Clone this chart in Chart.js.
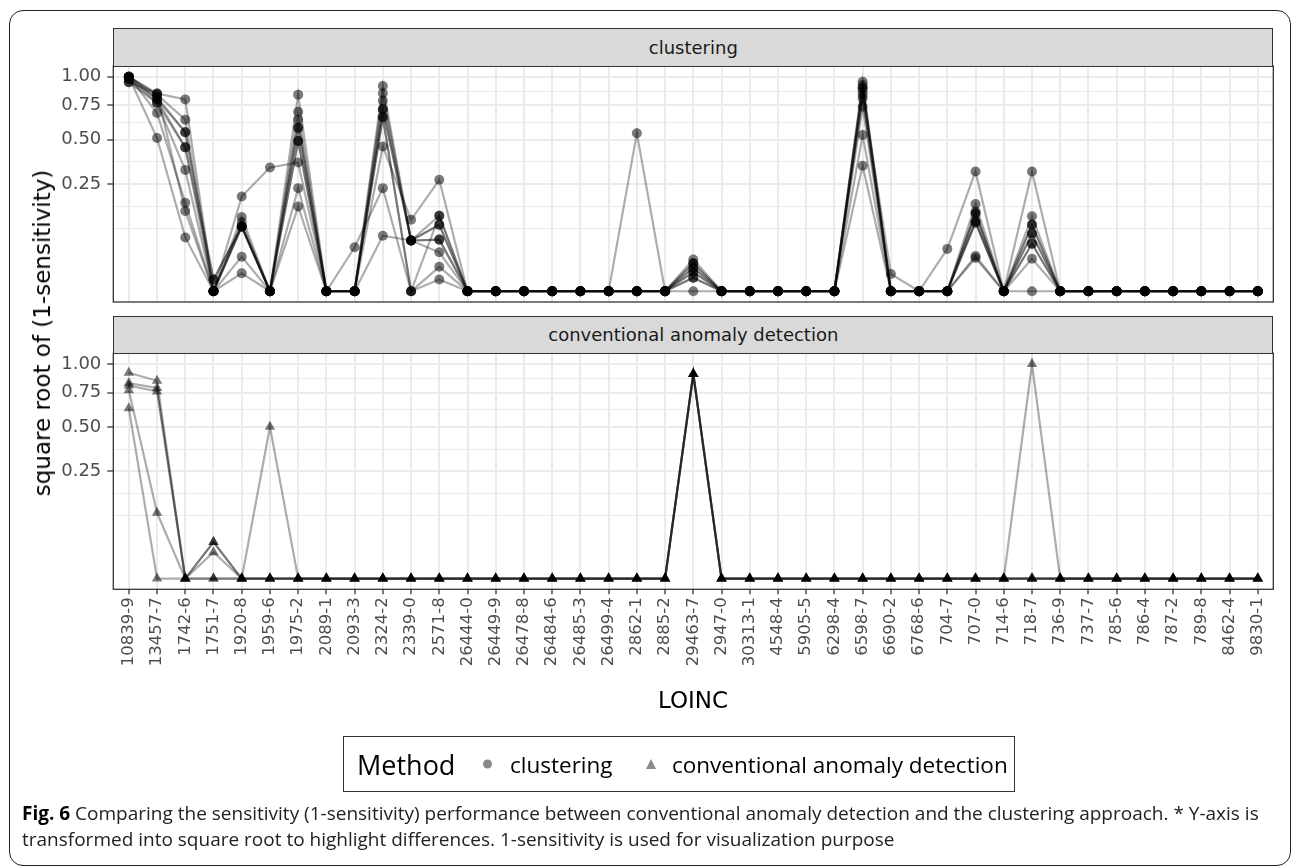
<!DOCTYPE html>
<html>
<head>
<meta charset="utf-8">
<script src="https://cdn.jsdelivr.net/npm/chart.js@4.4.1/dist/chart.umd.min.js"></script>
<style>
  html, body { margin: 0; padding: 0; background: #fff; }
  #fig { position: relative; width: 1292px; height: 868px; overflow: hidden; font-family: "DejaVu Sans", sans-serif; }
  canvas { position: absolute; left: 0; top: 0; }
  .frame { position: absolute; left: 9px; top: 10px; width: 1282px; height: 856px; border: 1.6px solid #222; border-radius: 14px; box-sizing: border-box; }
  .strip { position: absolute; left: 113.3px; width: 1160px; background: #d9d9d9; border: 1.3px solid #333; box-sizing: border-box;
           display: flex; align-items: center; justify-content: center; color: #1a1a1a; font-size: 18px; }
  .ytitle { position: absolute; left: 42px; top: 333px; transform: translate(-50%, -50%) rotate(-90deg); white-space: nowrap; font-size: 23px; color: #000; }
  .xtitle { position: absolute; left: 693px; top: 700px; transform: translate(-50%, -50%); white-space: nowrap; font-size: 23px; color: #000; }
  .legend { position: absolute; left: 343px; top: 736px; width: 672px; height: 56px; border: 1.3px solid #333; box-sizing: border-box;
            font-family: "Open Sans", sans-serif; color: #000; }
  .legend span { position: absolute; white-space: nowrap; top: 50%; transform: translateY(-50%); }
  .legend .ttl { font-size: 27px; left: 13px; }
  .legend .lab { font-size: 22.5px; }
  .dot { width: 9px; height: 9px; border-radius: 50%; background: #8a8a8a; }
  .tri { width: 0; height: 0; border-left: 5.5px solid transparent; border-right: 5.5px solid transparent; border-bottom: 10px solid #8a8a8a; }
  .caption { position: absolute; left: 22px; top: 800px; font-family: "Open Sans", sans-serif; font-size: 19px; line-height: 26px; color: #222; white-space: nowrap; }
  .caption b { color: #000; }
</style>
</head>
<body>
<div id="fig">
  <div class="frame"></div>
  <canvas id="panelClustering" width="1292" height="868"></canvas>
  <canvas id="panelConventional" width="1292" height="868"></canvas>
  <div class="strip" style="top:28px;height:38.5px;">clustering</div>
  <div class="strip" style="top:315.7px;height:38.3px;">conventional anomaly detection</div>
  <div class="ytitle">square root of (1-sensitivity)</div>
  <div class="xtitle">LOINC</div>
  <div class="legend">
    <span class="ttl">Method</span>
    <span class="dot" style="left:139px;"></span><span class="lab" style="left:166px;">clustering</span>
    <span class="tri" style="left:302px;"></span><span class="lab" style="left:328px;">conventional anomaly detection</span>
  </div>
  <div class="caption"><b>Fig. 6</b> Comparing the sensitivity (1-sensitivity) performance between conventional anomaly detection and the clustering approach. * Y-axis is<br>transformed into square root to highlight differences. 1-sensitivity is used for visualization purpose</div>
</div>
<script>
// LOINC codes on the x axis
const loincCodes = ["10839-9","13457-7","1742-6","1751-7","1920-8","1959-6","1975-2","2089-1","2093-3","2324-2",
  "2339-0","2571-8","26444-0","26449-9","26478-8","26484-6","26485-3","26499-4","2862-1","2885-2",
  "29463-7","2947-0","30313-1","4548-4","5905-5","6298-4","6598-7","6690-2","6768-6","704-7",
  "707-0","714-6","718-7","736-9","737-7","785-6","786-4","787-2","789-8","8462-4","9830-1"];

// labelled y breaks (1-sensitivity, before the square-root transform)
const yBreaks = [0.25, 0.50, 0.75, 1.00];

// 1-sensitivity per LOINC code, clustering runs
const clusteringRun01 = [1.00,0.85,0.80,0,0.091,0,0.84,0,0,0.915,0.056,0.096, 0,0,0,0,0,0, 0,0,0.012, 0,0,0,0,0, 0.954,0,0,0,0.131,0,0.096, 0,0,0,0,0,0,0,0];
const clusteringRun02 = [1.00,0.84,0.64,0,0.104,0,0.70,0,0,0.852,0.056,0.124, 0,0,0,0,0,0, 0,0,0.017, 0,0,0,0,0, 0.924,0,0,0,0.165,0,0.122, 0,0,0,0,0,0,0,0];
const clusteringRun03 = [1.00,0.82,0.55,0.003,0.091,0,0.64,0,0,0.789,0.056,0.058, 0,0,0,0,0,0, 0,0,0.022, 0,0,0,0,0, 0.90,0,0,0,0.138,0,0.072, 0,0,0,0,0,0,0,0];
const clusteringRun04 = [0.98,0.80,0.55,0,0.12,0,0.58,0,0,0.72,0.056,0.033, 0,0,0,0,0,0, 0,0,0.008, 0,0,0,0,0, 0.895,0,0,0,0.106,0,0.049, 0,0,0,0,0,0,0,0];
const clusteringRun05 = [1.00,0.80,0.45,0,0.091,0,0.58,0,0,0.72,0.056,0.096, 0,0,0,0,0,0, 0,0,0.012, 0,0,0,0,0, 0.865,0.0065,0,0,0.101,0,0.072, 0,0,0,0,0,0,0,0];
const clusteringRun06 = [0.98,0.77,0.45,0.003,0.091,0,0.49,0,0,0.658,0,0.013, 0,0,0,0,0,0, 0,0,0.004, 0,0,0,0,0, 0.837,0,0,0,0.131,0,0.023, 0,0,0,0,0,0,0,0];
const clusteringRun07 = [0.95,0.77,0.32,0,0.026,0,0.49,0,0,0.658,0,0.003, 0,0,0,0,0,0, 0,0,0.008, 0,0,0,0,0, 0.809,0,0,0.039,0.312,0,0.312, 0,0,0,0,0,0,0,0];
const clusteringRun08 = [1.00,0.69,0.17,0,0.195,0.333,0.36,0,0,0.455,0.111,0.27, 0,0,0,0,0,0, 0.543,0,0.004, 0,0,0,0,0, 0.74,0,0,0,0.106,0,0.096, 0,0,0,0,0,0,0,0];
const clusteringRun09 = [0.95,0.85,0.14,0,0.007,0,0.231,0,0.042,0.231,0,0.124, 0,0,0,0,0,0, 0,0,0, 0,0,0,0,0, 0.531,0,0,0,0.027,0,0, 0,0,0,0,0,0,0,0];
const clusteringRun10 = [1.00,0.51,0.063,0,0.091,0,0.156,0,0,0.067,0.056,0.058, 0,0,0,0,0,0, 0,0,0.017, 0,0,0,0,0, 0.342,0,0,0,0.024,0,0.049, 0,0,0,0,0,0,0,0];

// 1-sensitivity per LOINC code, conventional anomaly detection runs
const conventionalRun1 = [0.92,0.85,0,0.029,0,0,0,0,0,0,0,0, 0,0,0,0,0,0, 0,0,0.91, 0,0,0,0,0, 0,0,0,0,0,0,0, 0,0,0,0,0,0,0,0];
const conventionalRun2 = [0.83,0.79,0,0.029,0,0,0,0,0,0,0,0, 0,0,0,0,0,0, 0,0,0.91, 0,0,0,0,0, 0,0,0,0,0,0,0, 0,0,0,0,0,0,0,0];
const conventionalRun3 = [0.81,0.76,0,0.015,0,0.50,0,0,0,0,0,0, 0,0,0,0,0,0, 0,0,0.91, 0,0,0,0,0, 0,0,0,0,0,0,0, 0,0,0,0,0,0,0,0];
const conventionalRun4 = [0.77,0.094,0,0,0,0,0,0,0,0,0,0, 0,0,0,0,0,0, 0,0,0.91, 0,0,0,0,0, 0,0,0,0,0,0,1.00, 0,0,0,0,0,0,0,0];
const conventionalRun5 = [0.63,0,0,0,0,0,0,0,0,0,0,0, 0,0,0,0,0,0, 0,0,0.91, 0,0,0,0,0, 0,0,0,0,0,0,0, 0,0,0,0,0,0,0,0];

const clusteringRuns = [clusteringRun01, clusteringRun02, clusteringRun03, clusteringRun04, clusteringRun05,
                        clusteringRun06, clusteringRun07, clusteringRun08, clusteringRun09, clusteringRun10];
const conventionalRuns = [conventionalRun1, conventionalRun2, conventionalRun3, conventionalRun4, conventionalRun5];

// square-root axis: major lines at the labelled breaks, minor lines halfway between them (in sqrt space)
function sqrtAxisTicks() {
  const major = yBreaks.map(b => ({ value: Math.sqrt(b), lbl: b.toFixed(2), minor: false }));
  const m = major.map(t => t.value);
  const step = m[1] - m[0];
  const ext = [m[0] - step].concat(m);
  const minor = [];
  for (let i = 0; i < ext.length - 1; i++) minor.push({ value: (ext[i] + ext[i + 1]) / 2, lbl: '', minor: true });
  minor.push({ value: ext[0], lbl: '', minor: true });
  return minor.concat(major).sort((a, b) => a.value - b.value);
}

function buildDatasets(runs, style, radius) {
  const toPoints = r => r.map((v, i) => ({ x: i, y: Math.sqrt(v) }));
  const lines = runs.map(r => ({
    data: toPoints(r), borderColor: 'rgba(0,0,0,0.32)', borderWidth: 2.2,
    pointRadius: 0, fill: false, tension: 0, order: 2
  }));
  const pts = runs.map(r => ({
    data: toPoints(r), showLine: false, pointStyle: style, pointRadius: radius,
    pointBackgroundColor: 'rgba(0,0,0,0.52)', pointBorderWidth: 0, order: 1
  }));
  return lines.concat(pts);
}

const panelBorder = {
  id: 'panelBorder',
  afterDatasetsDraw(chart) {
    const { ctx, chartArea: a } = chart;
    ctx.save();
    ctx.strokeStyle = '#333';
    ctx.lineWidth = 1.3;
    ctx.strokeRect(a.left, a.top, a.right - a.left, a.bottom - a.top);
    ctx.restore();
  }
};

const W = 1292, H = 868;
const PANEL_LEFT = 113.3, PANEL_RIGHT = 1273.3;
const tickFont = { family: 'DejaVu Sans', size: 18 };

function makePanel(id, runs, style, radius, top, bottom, showX) {
  return new Chart(document.getElementById(id), {
    type: 'line',
    data: { datasets: buildDatasets(runs, style, radius) },
    plugins: [panelBorder],
    options: {
      responsive: false, animation: false, devicePixelRatio: 1, events: [],
      layout: { padding: { left: 0, top: top, right: W - PANEL_RIGHT, bottom: 0 } },
      plugins: { legend: { display: false }, tooltip: { enabled: false } },
      scales: {
        x: {
          type: 'linear', min: -0.55, max: loincCodes.length - 1 + 0.55,
          afterBuildTicks: s => { s.ticks = loincCodes.map((_, i) => ({ value: i })); },
          afterFit: s => { s.height = H - bottom; },
          ticks: {
            display: showX, autoSkip: false, maxRotation: 90, minRotation: 90, padding: 3,
            callback: v => loincCodes[v], font: { family: 'DejaVu Sans', size: 16.5 }, color: '#4d4d4d'
          },
          grid: { color: '#ebebeb', lineWidth: 2, drawTicks: showX, tickLength: 5, tickColor: '#333', tickWidth: 1.3 },
          border: { display: false }
        },
        y: {
          type: 'linear', min: -0.05, max: 1.05,
          afterBuildTicks: s => { s.ticks = sqrtAxisTicks(); },
          afterFit: s => { s.width = PANEL_LEFT; },
          ticks: { autoSkip: false, padding: 6, callback: (v, i, t) => t[i].lbl, font: tickFont, color: '#4d4d4d' },
          grid: {
            color: '#ebebeb',
            lineWidth: c => (c.tick && c.tick.minor) ? 1.1 : 2,
            tickLength: 6, tickWidth: 1.3,
            tickColor: c => (c.tick && c.tick.minor) ? 'rgba(0,0,0,0)' : '#333'
          },
          border: { display: false }
        }
      }
    }
  });
}

makePanel('panelClustering', clusteringRuns, 'circle', 5, 66, 302, false);
makePanel('panelConventional', conventionalRuns, 'triangle', 6, 353.3, 589.3, true);
</script>
</body>
</html>
